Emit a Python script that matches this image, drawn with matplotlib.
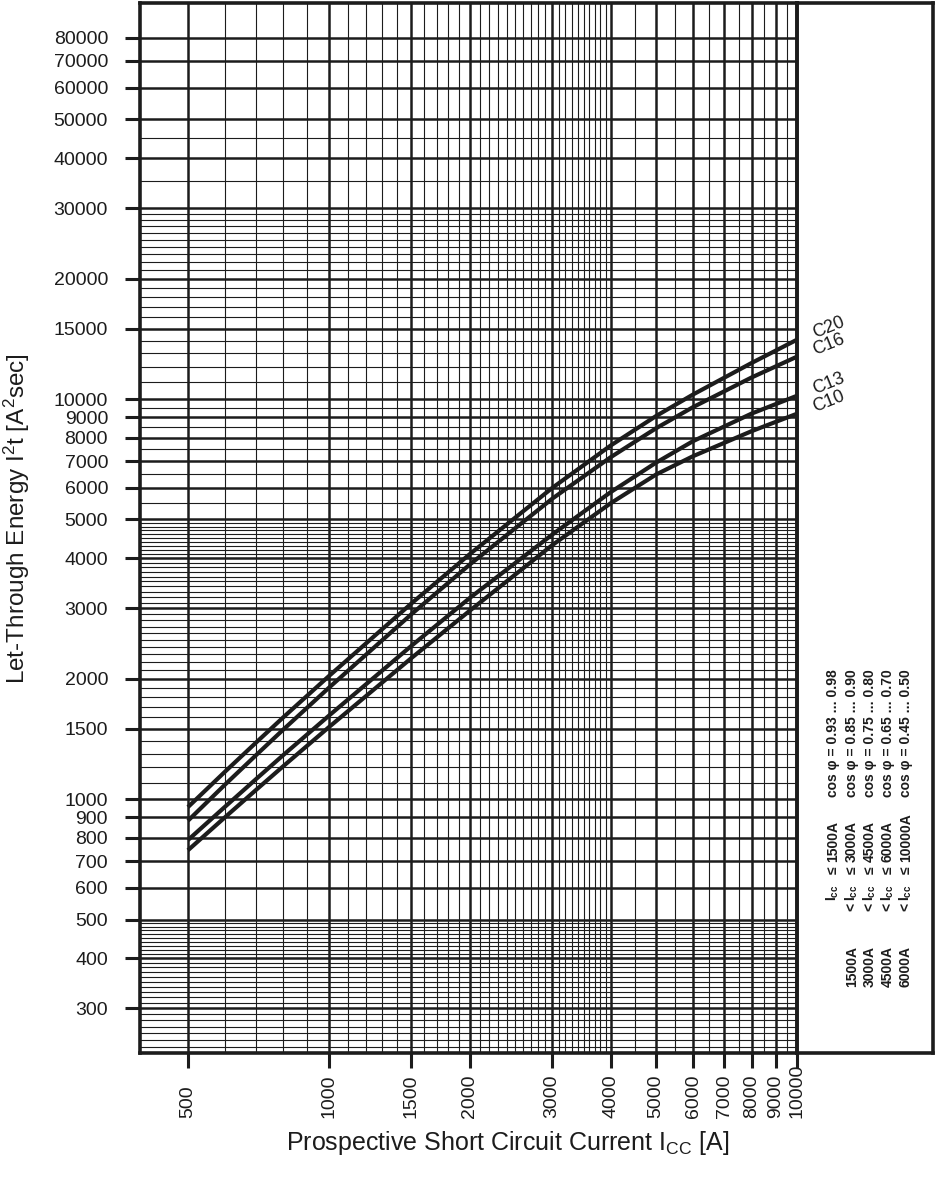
import numpy as np
import matplotlib.pyplot as plt
from matplotlib.ticker import FixedLocator, NullFormatter

plt.rcParams['font.family'] = ['Liberation Sans', 'DejaVu Sans']
plt.rcParams['mathtext.fontset'] = 'custom'
plt.rcParams['mathtext.rm'] = 'Liberation Sans'
plt.rcParams['mathtext.it'] = 'Liberation Sans'
plt.rcParams['mathtext.bf'] = 'Liberation Sans:bold'

INK = '#1c1c1c'

# prospective short circuit current [A]
current = [500, 600, 700, 800, 1000, 1500, 2000, 3000, 4000, 5000, 6000, 8000, 10000]

# let-through energy I2t [A2s]
c20 = [955, 1171, 1387, 1603, 2030, 3082, 4096, 5995, 7654, 9069, 10268, 12308, 14072]
c16 = [883, 1087, 1290, 1494, 1898, 2897, 3858, 5635, 7156, 8452, 9549, 11323, 12763]
c13 = [790, 957, 1124, 1290, 1616, 2415, 3183, 4583, 5853, 6935, 7851, 9198, 10191]
c10 = [745, 901, 1056, 1210, 1513, 2251, 2958, 4313, 5491, 6477, 7199, 8313, 9190]
curve_names = ['C20', 'C16', 'C13', 'C10']

x_major = [500, 1000, 1500, 2000, 3000, 4000, 5000, 6000, 7000, 8000, 9000, 10000]
y_major = [300, 400, 500, 600, 700, 800, 900, 1000, 1500, 2000, 3000, 4000, 5000,
           6000, 7000, 8000, 9000, 10000, 15000, 20000, 30000, 40000, 50000,
           60000, 70000, 80000]

x_minor = ([600, 700, 800, 900] + list(range(1100, 1500, 100)) + list(range(1600, 2000, 100))
           + list(range(2100, 3000, 100)) + list(range(3100, 4000, 100))
           + [4500, 5500, 6500, 7500, 8500, 9500])
y_minor = (list(range(240, 300, 10)) + list(range(310, 400, 10)) + list(range(410, 500, 10))
           + list(range(1100, 1500, 100)) + list(range(1600, 2000, 100))
           + list(range(2100, 3000, 100)) + list(range(3100, 4000, 100))
           + list(range(4100, 5000, 100)) + [5500, 6500, 7500, 8500, 9500]
           + list(range(11000, 15000, 1000)) + list(range(16000, 20000, 1000))
           + list(range(21000, 30000, 1000)) + [35000, 45000])

# range notes in the side box
lower_bounds = ['', '1500A', '3000A', '4500A', '6000A']
upper_bounds = ['1500A', '3000A', '4500A', '6000A', '10000A']
cos_phi = ['0.93 ... 0.98', '0.85 ... 0.90', '0.75 ... 0.80', '0.65 ... 0.70', '0.45 ... 0.50']

W, H = 937, 1187
fig = plt.figure(figsize=(W / 100, H / 100), dpi=100)
L, R, T, B = 140, 797, 3, 1053

# side box first, so the main axes (and curve names) sit on top of it
box = fig.add_axes([R / W, 1 - B / H, (933 - R) / W, (B - T) / H])
box.set_xticks([])
box.set_yticks([])
for s in box.spines.values():
    s.set_linewidth(2.6)
    s.set_color(INK)

ax = fig.add_axes([L / W, 1 - B / H, (R - L) / W, (B - T) / H])
ax.patch.set_alpha(0)

ax.set_xscale('log')
ax.set_yscale('log')
ax.set_xlim(395, 10000)
ax.set_ylim(232, 97700)

ax.xaxis.set_major_locator(FixedLocator(x_major))
ax.yaxis.set_major_locator(FixedLocator(y_major))
ax.xaxis.set_minor_locator(FixedLocator(x_minor))
ax.yaxis.set_minor_locator(FixedLocator(y_minor))
ax.xaxis.set_major_formatter(NullFormatter())
ax.xaxis.set_minor_formatter(NullFormatter())
ax.yaxis.set_minor_formatter(NullFormatter())
ax.set_yticklabels([str(v) for v in y_major])

ax.grid(which='major', color=INK, linewidth=1.8)
ax.grid(which='minor', color=INK, linewidth=0.8)
ax.tick_params(which='major', direction='out', length=11, width=2.2, color=INK,
               labelsize=14, labelcolor=INK)
ax.tick_params(axis='y', which='major', pad=12)
ax.tick_params(which='minor', length=0)
for s in ax.spines.values():
    s.set_linewidth(2.6)
    s.set_color(INK)

# rotated current labels, aligned at their start
for v in x_major:
    ax.text(v, -0.062, str(v), transform=ax.get_xaxis_transform(), rotation=90,
            ha='center', va='bottom', fontsize=14, color=INK)

for name, vals in zip(curve_names, [c20, c16, c13, c10]):
    ax.plot(current, vals, color=INK, linewidth=3, solid_capstyle='butt', zorder=5)
    ax.annotate(name, xy=(current[-1], vals[-1]), xytext=(23, 9),
                textcoords='offset points', ha='center', va='center', rotation=22,
                fontsize=13, color=INK, annotation_clip=False)

row_x = [833, 852, 870, 888, 906]
kw = dict(rotation=90, ha='center', fontsize=10, fontweight='bold', color=INK)
for i, xp in enumerate(row_x):
    fx = xp / W
    if lower_bounds[i]:
        fig.text(fx, 1 - 987 / H, lower_bounds[i], va='bottom', **kw)
        fig.text(fx, 1 - 907 / H, '<', va='center', **kw)
    fig.text(fx, 1 - 893 / H, r'$\mathbf{I_{cc}}$', va='center', **kw)
    fig.text(fx, 1 - 870 / H, '≤', va='center', **kw)
    fig.text(fx, 1 - 862 / H, upper_bounds[i], va='bottom', **kw)
    fig.text(fx, 1 - 797 / H, 'cos φ = ' + cos_phi[i], va='bottom', **kw)

fig.text(17 / W, 1 - 519 / H, 'Let-Through Energy I$^2$t [A$^2$sec]', rotation=90,
         ha='center', va='center', fontsize=17.5, color=INK)
fig.text(508 / W, 1 - 1143 / H, 'Prospective Short Circuit Current I$_{CC}$ [A]',
         ha='center', va='center', fontsize=18, color=INK)

fig.savefig('out.png', dpi=100)
